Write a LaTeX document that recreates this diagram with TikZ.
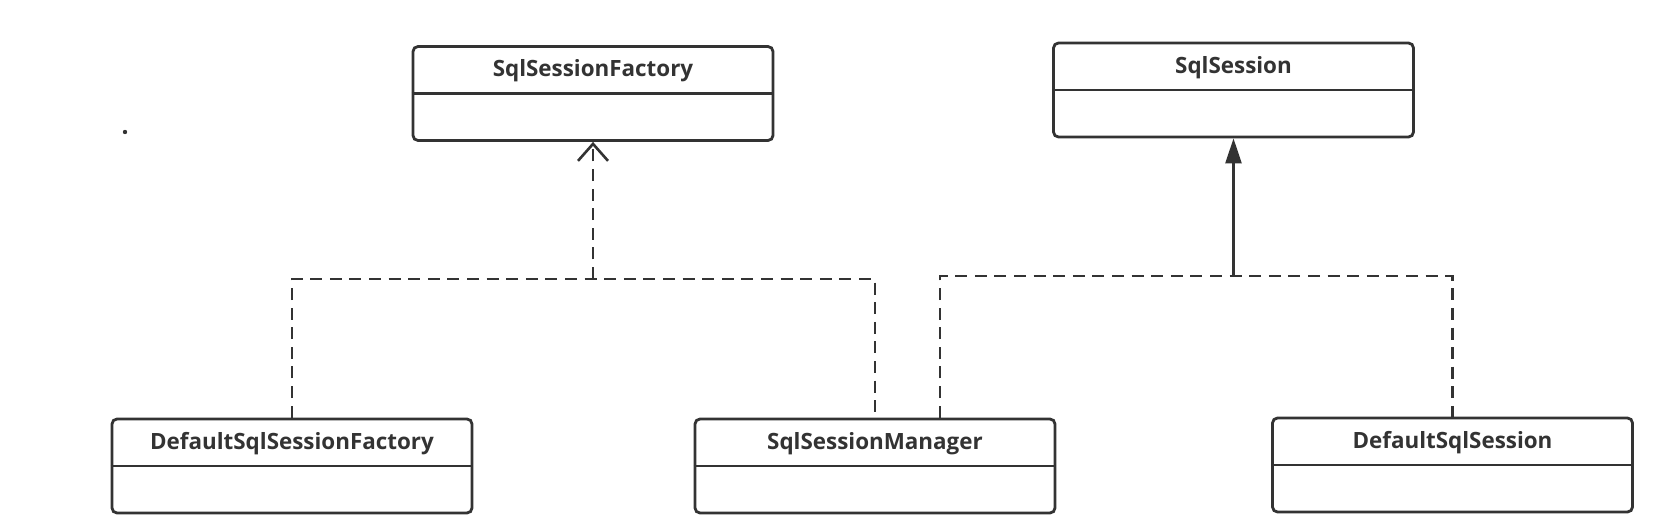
\documentclass[tikz,border=0pt]{standalone}
\usepackage{fontspec}
\setmainfont{Open Sans}
\usepackage{tikz}
\usetikzlibrary{arrows.meta,positioning}
\definecolor{dark-gray}{HTML}{333333}
\newcommand*\cname[1]{\bfseries\color{dark-gray} #1}

\begin{document}
\begin{tikzpicture}[x=0.5pt,y=-0.5pt,
				classbox/.style={draw=dark-gray,line width=1.4pt,rounded corners=2.5pt,minimum width=180pt,minimum height=47pt,inner sep=0pt},
				classname/.style={font=\fontsize{11.2}{13}\selectfont,inner sep=0pt,below=13pt of #1.north,anchor=center},
				dashline/.style={draw=dark-gray,line width=1.3pt,dash pattern=on 6pt off 3.8pt},
				solidline/.style={draw=dark-gray,line width=1.3pt}]
				\useasboundingbox (0,0) rectangle (1666,525);
				% classes
				\node[classbox] (fac)  at (593,93.5) {};
				\node[classbox] (ses)  at (1233.5,90) {};
				\node[classbox] (dfac) at (292,466) {};
				\node[classbox] (mgr)  at (875,466) {};
				\node[classbox] (dses) at (1452.5,465) {};
				\node[classname=fac]  (facname)  {\cname{SqlSessionFactory}};
				\node[classname=ses]  (sesname)  {\cname{SqlSession}};
				\node[classname=dfac] (dfacname) {\cname{DefaultSqlSessionFactory}};
				\node[classname=mgr]  (mgrname)  {\cname{SqlSessionManager}};
				\node[classname=dses] (dsesname) {\cname{DefaultSqlSession}};
				\foreach \c in {fac,ses,dfac,mgr,dses}
					\draw[solidline,line width=1.4pt] (\c.west) -- (\c.east);
				% connectors
				\coordinate (facjoin) at (593,279);
				\coordinate (sesjoin) at (1233.5,276);
				\draw[dashline] (dfac.north) |- (facjoin) -| (mgr.north);
				\draw[dashline,-{Straight Barb[length=8.5pt,width=15pt,line width=1.3pt]}] (facjoin) -- (fac.south);
				\draw[dashline] ([xshift=32.5pt]mgr.north) |- (sesjoin) -| (dses.north);
				\draw[solidline,-{Triangle[length=12.5pt,width=8pt]}] (sesjoin) -- (ses.south);
				\node[circle,fill=dark-gray,inner sep=0pt,minimum size=2.2pt] (dot) at (125,132) {};
				\end{tikzpicture}
\end{document}
